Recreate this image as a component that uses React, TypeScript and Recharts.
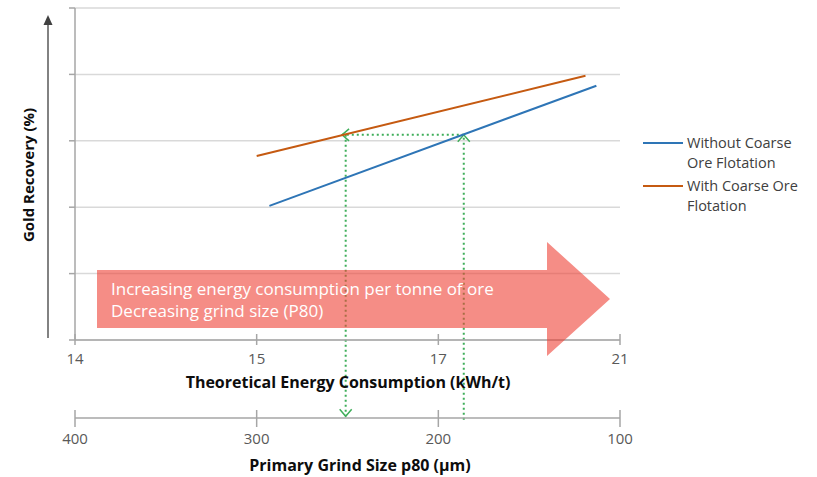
import React from 'react';
import { LineChart, Line, XAxis, YAxis, CartesianGrid, ReferenceLine } from 'recharts';

// top axis: energy labels sit at evenly spaced positions 0..3
const energyTicks = ['14', '15', '17', '21'];
const energyPositions = [0, 1, 2, 3];
// bottom axis: grind size, runs backwards
const grindTicks = [400, 300, 200, 100];
// recovery has no labels, only gridlines
const recoveryTicks = [0, 1, 2, 3, 4, 5];

const withoutCoarse = [
  { x: 1.07, y: 2.02 },
  { x: 2.87, y: 3.83 },
];
const withCoarse = [
  { x: 1.0, y: 2.77 },
  { x: 2.81, y: 3.98 },
];

const seriesNames = ['Without Coarse Ore Flotation', 'With Coarse Ore Flotation'];
const legendLines = [
  ['Without Coarse', 'Ore Flotation'],
  ['With Coarse Ore', 'Flotation'],
];
const seriesColors = ['#2e75b6', '#c55a11'];

// green dotted guides (chevron at the "to" end)
const guides = [
  { from: { x: 2.14, y: 3.09 }, to: { x: 1.47, y: 3.09 } },
  { from: { x: 1.49, y: 3.09 }, to: { x: 1.49, y: -1.15 } },
  { from: { x: 2.14, y: -1.2 }, to: { x: 2.14, y: 3.09 } },
];

const arrowText = ['Increasing energy consumption per tonne of ore', 'Decreasing grind size (P80)'];

// empty rows so the grind axis has a domain to work with
const grindRows = grindTicks.map((g) => ({ g }));

const FONT = '"Open Sans", sans-serif';
const AXIS_GREY = '#a6a6a6';
const GREEN = '#3fae5a';

const GuideShape = (props: any) => {
  const { x1, y1, x2, y2 } = props;
  const dx = x2 - x1;
  const dy = y2 - y1;
  const len = Math.hypot(dx, dy) || 1;
  const ux = dx / len;
  const uy = dy / len;
  const nx = -uy;
  const ny = ux;
  const back = 7;
  const half = 6;
  const a = `${x2 - ux * back + nx * half},${y2 - uy * back + ny * half}`;
  const b = `${x2 - ux * back - nx * half},${y2 - uy * back - ny * half}`;
  return (
    <g>
      <line x1={x1} y1={y1} x2={x2} y2={y2} stroke={GREEN} strokeWidth={2} strokeDasharray="2 3" />
      <polyline points={`${a} ${x2},${y2} ${b}`} fill="none" stroke={GREEN} strokeWidth={1.5} />
    </g>
  );
};

const makeTick = (labels: (v: number) => string, up: number, down: number, dyText: number) => (props: any) => {
  const { x, y, payload } = props;
  return (
    <g>
      <line x1={x} x2={x} y1={y - up} y2={y + down} stroke={AXIS_GREY} strokeWidth={1.5} />
      <text x={x} y={y + dyText} textAnchor="middle" fill="#595959" fontSize={15} fontFamily={FONT}>
        {labels(payload.value)}
      </text>
    </g>
  );
};

const EnergyTick = makeTick((v) => energyTicks[v], 6, 5, 24);
const GrindTick = makeTick((v) => String(v), 8, 9, 26);

export default function App() {
  return (
    <div style={{ position: 'absolute', left: 0, top: 0, width: 817, height: 477, background: '#fff' }}>
      <LineChart width={817} height={477} margin={{ top: 8, right: 197, bottom: 0, left: 0 }}>
        <CartesianGrid vertical={false} stroke="#d9d9d9" strokeWidth={1.5} />
        <XAxis
          type="number"
          dataKey="x"
          domain={[0, 3]}
          ticks={energyPositions}
          allowDataOverflow
          height={78}
          stroke={AXIS_GREY}
          strokeWidth={1.5}
          tickLine={false}
          tickSize={0}
          tickMargin={0}
          tick={EnergyTick}
        />
        <XAxis
          xAxisId="grind"
          type="number"
          dataKey="g"
          domain={[100, 400]}
          reversed
          ticks={grindTicks}
          allowDataOverflow
          height={59}
          stroke={AXIS_GREY}
          strokeWidth={1.5}
          tickLine={false}
          tickSize={0}
          tickMargin={0}
          tick={GrindTick}
        />
        <YAxis
          type="number"
          domain={[0, 5]}
          ticks={recoveryTicks}
          width={75}
          stroke={AXIS_GREY}
          strokeWidth={1.5}
          tickSize={6}
          tick={() => <g />}
        />
        {guides.map((g, i) => (
          <ReferenceLine key={i} segment={[g.from, g.to]} ifOverflow="visible" shape={GuideShape} />
        ))}
        <Line
          xAxisId="grind"
          data={grindRows}
          dataKey="y"
          stroke="none"
          dot={false}
          legendType="none"
          isAnimationActive={false}
        />
        <Line
          data={withoutCoarse}
          dataKey="y"
          name={seriesNames[0]}
          type="linear"
          stroke={seriesColors[0]}
          strokeWidth={2}
          dot={false}
          isAnimationActive={false}
        />
        <Line
          data={withCoarse}
          dataKey="y"
          name={seriesNames[1]}
          type="linear"
          stroke={seriesColors[1]}
          strokeWidth={2}
          dot={false}
          isAnimationActive={false}
        />
      </LineChart>

      <svg width={817} height={477} style={{ position: 'absolute', left: 0, top: 0, pointerEvents: 'none' }}>
        {/* y axis arrow and title */}
        <line x1={48} y1={338} x2={48} y2={24} stroke="#595959" strokeWidth={1.5} />
        <polygon points="48,15 43.5,25 52.5,25" fill="#404040" />
        <text
          transform="translate(28,175) rotate(-90)"
          textAnchor="middle"
          dominantBaseline="central"
          fontFamily={FONT}
          fontWeight={700}
          fontSize={15}
          fill="#0d0d0d"
        >
          Gold Recovery (%)
        </text>

        {/* the big pink arrow */}
        <polygon
          points="97,270 547,270 547,242 610,299 547,356 547,328 97,328"
          fill="#ef4136"
          fillOpacity={0.6}
        />
        {arrowText.map((t, i) => (
          <text key={i} x={111} y={295 + i * 22} fill="#fff" fontFamily={FONT} fontSize={17}>
            {t}
          </text>
        ))}

        {/* axis titles */}
        <text x={348} y={388} textAnchor="middle" fontFamily={FONT} fontWeight={700} fontSize={16} fill="#0d0d0d">
          Theoretical Energy Consumption (kWh/t)
        </text>
        <text x={360} y={471} textAnchor="middle" fontFamily={FONT} fontWeight={700} fontSize={16} fill="#0d0d0d">
          Primary Grind Size p80 (µm)
        </text>

        {/* legend */}
        {legendLines.map((lines, i) => {
          const top = i === 0 ? 143 : 186;
          return (
            <g key={i}>
              <line x1={643} x2={683} y1={top} y2={top} stroke={seriesColors[i]} strokeWidth={2} />
              {lines.map((l, j) => (
                <text key={j} x={687} y={top + 5 + j * 20} fontFamily={FONT} fontSize={14.5} fill="#404040">
                  {l}
                </text>
              ))}
            </g>
          );
        })}
      </svg>
    </div>
  );
}
